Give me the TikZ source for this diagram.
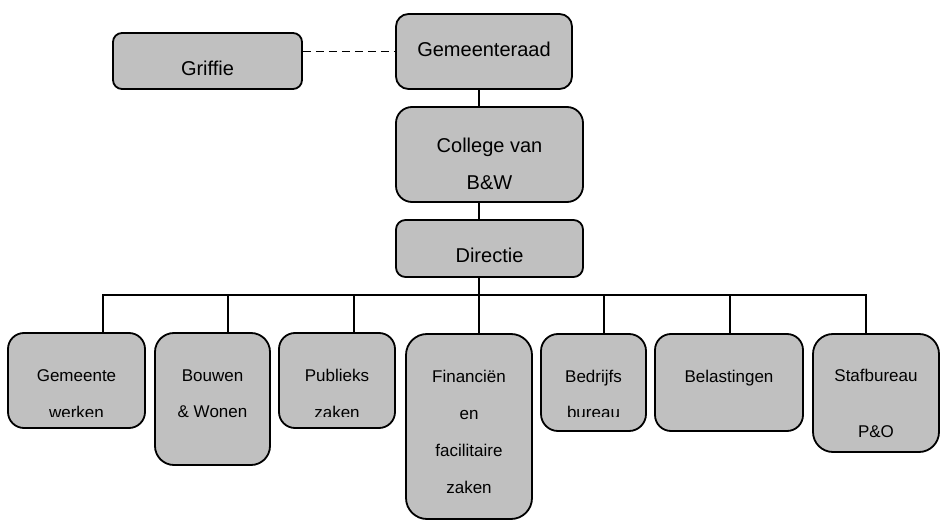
\documentclass[tikz,border=0pt]{standalone}
\usepackage{fontspec}
\setmainfont{Liberation Sans}
\definecolor{boxgray}{RGB}{192,192,192}
\begin{document}
\begin{tikzpicture}[x=1bp,y=-1bp,
  box/.style={draw=black, line width=1.8bp, fill=boxgray, inner sep=0pt},
  toptext/.style={font=\fontsize{20bp}{24bp}\selectfont, inner sep=0pt, anchor=base},
  lowtext/.style={font=\fontsize{17bp}{20bp}\selectfont, inner sep=0pt, anchor=base},
  conn/.style={line width=1.6bp, line cap=rect},
  dashconn/.style={line width=1.6bp, dash pattern=on 8bp off 5bp}]
\fill[white] (0,0) rectangle (940,520);
\useasboundingbox (0,0) rectangle (940,520);

% boxes (drawn as named nodes)
\node[box, minimum width=189bp, minimum height=56bp, rounded corners=9bp] (griffie) at (207.5,61) {};
\node[box, minimum width=176bp, minimum height=75bp, rounded corners=12.5bp] (raad) at (484,51.5) {};
\node[box, minimum width=187bp, minimum height=95bp, rounded corners=16bp] (college) at (489.5,154.5) {};
\node[box, minimum width=187bp, minimum height=57bp, rounded corners=9.5bp] (directie) at (489.5,248.5) {};
\node[box, minimum width=137bp, minimum height=95bp, rounded corners=16bp] (gw) at (76.5,380.5) {};
\node[box, minimum width=115bp, minimum height=132bp, rounded corners=19bp] (bw) at (212.5,399) {};
\node[box, minimum width=116bp, minimum height=95bp, rounded corners=16bp] (pz) at (337,380.5) {};
\node[box, minimum width=126bp, minimum height=185bp, rounded corners=21bp] (fin) at (469,426.5) {};
\node[box, minimum width=105bp, minimum height=97bp, rounded corners=17bp] (bb) at (593.5,382.5) {};
\node[box, minimum width=148bp, minimum height=97bp, rounded corners=16bp] (bel) at (729,382.5) {};
\node[box, minimum width=126bp, minimum height=118bp, rounded corners=20bp] (staf) at (876,393) {};

% connectors
\coordinate (spine) at (479,295);
\coordinate (d1) at (103,295);
\coordinate (d2) at (228,295);
\coordinate (d3) at (354,295);
\coordinate (d5) at (604,295);
\coordinate (d6) at (730,295);
\coordinate (d7) at (866,295);
\draw[dashconn] (griffie.east |- raad.west) -- (raad.west);
\draw[conn] (raad.south -| spine) -- (college.north -| spine);
\draw[conn] (college.south -| spine) -- (directie.north -| spine);
\draw[conn] (directie.south -| spine) -- (spine);
\draw[conn] (d1) -- (d7);
\draw[conn] (d1) -- (d1 |- gw.north);
\draw[conn] (d2) -- (d2 |- bw.north);
\draw[conn] (d3) -- (d3 |- pz.north);
\draw[conn] (spine) -- (spine |- fin.north);
\draw[conn] (d5) -- (d5 |- bb.north);
\draw[conn] (d6) -- (d6 |- bel.north);
\draw[conn] (d7) -- (d7 |- staf.north);

% texts
\node[toptext] (t-griffie) at (207.5,76) {Griffie};
\node[toptext] (t-raad) at (484,57) {Gemeenteraad};
\node[toptext] (t-col1) at (489.5,153) {College van};
\node[toptext] (t-col2) at (489.5,190) {B\&W};
\node[toptext] (t-dir) at (489.5,263) {Directie};

\node[lowtext] (t-gw1) at (76.5,381) {Gemeente};
\node[lowtext] (t-bw1) at (212.5,381) {Bouwen};
\node[lowtext] (t-bw2) at (212.5,417) {\& Wonen};
\node[lowtext] (t-pz1) at (337,381) {Publieks};
\node[lowtext] (t-fin1) at (469,382) {Financiën};
\node[lowtext] (t-fin2) at (469,419) {en};
\node[lowtext] (t-fin3) at (469,456) {facilitaire};
\node[lowtext] (t-fin4) at (469,493) {zaken};
\node[lowtext] (t-bb1) at (593.5,382) {Bedrijfs};
\node[lowtext] (t-bel1) at (729,382) {Belastingen};
\node[lowtext] (t-staf1) at (876,381) {Stafbureau};
\node[lowtext] (t-staf2) at (876,437) {P\&O};

% second lines that are cut at the bottom
\begin{scope}
  \clip (0,395) rectangle (940,416.5);
  \node[lowtext] (t-gw2) at (76.5,418) {werken};
  \node[lowtext] (t-pz2) at (337,418) {zaken};
  \node[lowtext] (t-bb2) at (593.5,418) {bureau};
\end{scope}
\end{tikzpicture}
\end{document}
